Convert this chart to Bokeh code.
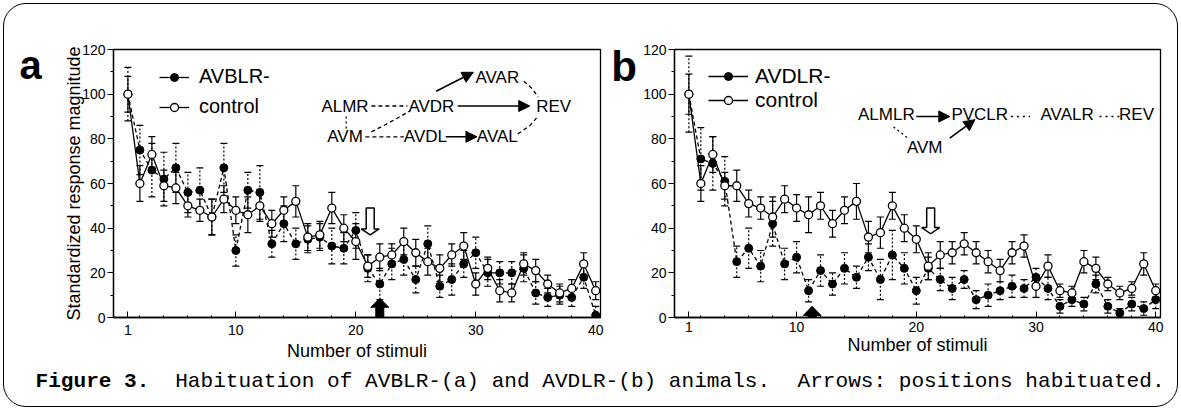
from bokeh.plotting import figure
from bokeh.models import (ColumnDataSource, Whisker, TeeHead, FixedTicker, Label, Arrow,
                          NormalHead, Legend, LegendItem, PolyAnnotation)
from bokeh.layouts import row, column
from bokeh.embed import file_html
from bokeh.resources import INLINE

FONT = "Liberation Sans"

stimuli = list(range(1, 41))
x_tick_labels = [1, 10, 20, 30, 40]
y_tick_labels = [0, 20, 40, 60, 80, 100, 120]

# panel a
a_avblr = [100, 75, 66, 62, 67, 56, 57, 45, 67, 30, 57, 56, 33, 42, 33, 35, 36, 32, 31, 39,
           22, 15, 24, 26, 17, 33, 14, 17, 24, 29, 20, 20, 20, 22, 11, 9, 10, 9, 18, 1]
a_avblr_err = [12, 11, 12, 12, 11, 9, 10, 8, 11, 7, 8, 12, 6, 8, 7, 6, 6, 8, 7, 8,
               6, 7, 7, 7, 6, 8, 5, 7, 6, 7, 6, 5, 5, 6, 5, 4, 4, 4, 5, 4]
a_control = [100, 60, 73, 59, 58, 50, 48, 45, 53, 48, 46, 50, 42, 48, 52, 36, 37, 49, 40, 34,
             23, 27, 28, 34, 29, 25, 22, 28, 32, 15, 22, 12, 11, 24, 21, 15, 11, 13, 24, 12]
a_control_err = [8, 8, 8, 7, 7, 5, 5, 8, 6, 6, 8, 7, 6, 6, 7, 6, 6, 7, 6, 8,
                 5, 6, 5, 6, 6, 6, 6, 5, 6, 5, 5, 5, 4, 5, 5, 4, 4, 4, 5, 4]

# panel b
b_avdlr = [100, 71, 69, 61, 25, 31, 23, 42, 24, 27, 12, 21, 15, 22, 18, 27, 17, 28, 22, 12,
           22, 17, 13, 17, 8, 10, 12, 14, 13, 18, 13, 5, 8, 6, 15, 5, 2, 6, 4, 8]
b_avdlr_err = [17, 14, 12, 11, 7, 9, 7, 10, 7, 7, 5, 7, 5, 7, 5, 6, 9, 11, 7, 6,
               5, 5, 5, 4, 4, 5, 4, 5, 4, 4, 5, 3, 3, 3, 4, 3, 2, 3, 3, 4]
b_control = [100, 60, 73, 59, 59, 51, 49, 45, 53, 49, 46, 50, 42, 48, 52, 36, 38, 50, 40, 35,
             23, 28, 29, 33, 29, 25, 21, 29, 32, 14, 23, 12, 11, 25, 22, 15, 11, 13, 24, 12]
b_control_err = [9, 8, 8, 6, 7, 6, 5, 9, 6, 6, 8, 6, 6, 6, 8, 7, 7, 6, 6, 6,
                 6, 6, 5, 5, 5, 5, 5, 5, 5, 5, 5, 3, 3, 5, 5, 3, 3, 3, 5, 3]

habituated_a = {"mutant": 22, "control": 21}
habituated_b = {"mutant": 11, "control": 21}

H = 378          # height of the panel row
TOP = 49         # common frame top border
BOTTOM = 61      # common frame bottom border


def src(vals, errs):
    return ColumnDataSource(dict(x=stimuli, y=vals,
                                 lo=[v - e for v, e in zip(vals, errs)],
                                 up=[v + e for v, e in zip(vals, errs)]))


def make_panel(width, mbl, mbr, mutant, mutant_err, ctrl, ctrl_err, ylabel,
               tick_standoff, label_standoff):
    p = figure(width=width, height=H, x_range=(-0.2, 40.4), y_range=(0, 120), title=None,
               output_backend="svg", toolbar_location=None,
               min_border_left=mbl, min_border_right=mbr, min_border_top=TOP, min_border_bottom=BOTTOM)
    p.border_fill_alpha = 0
    p.grid.visible = False
    p.outline_line_color = "black"
    p.outline_line_width = 1.3
    p.xaxis.ticker = FixedTicker(ticks=x_tick_labels, minor_ticks=list(range(2, 41, 2)))
    p.yaxis.ticker = FixedTicker(ticks=y_tick_labels, minor_ticks=list(range(10, 120, 20)))
    for ax in (p.xaxis[0], p.yaxis[0]):
        ax.axis_line_color = "black"
        ax.axis_line_width = 1.3
        ax.major_tick_line_color = "black"
        ax.minor_tick_line_color = "black"
        ax.major_label_text_font = FONT
        ax.major_label_text_font_size = "14px"
        ax.major_label_text_color = "black"
        ax.axis_label_text_font = FONT
        ax.axis_label_text_font_style = "normal"
        ax.axis_label_text_color = "black"
    p.xaxis.major_tick_in = 6
    p.xaxis.major_tick_out = 0
    p.xaxis.minor_tick_in = 2
    p.xaxis.minor_tick_out = 0
    p.xaxis.major_label_standoff = tick_standoff
    p.xaxis.axis_label = "Number of stimuli"
    p.xaxis.axis_label_text_font_size = "18px"
    p.xaxis.axis_label_standoff = label_standoff
    p.yaxis.major_tick_in = 0
    p.yaxis.major_tick_out = 6
    p.yaxis.minor_tick_in = 0
    p.yaxis.minor_tick_out = 3
    p.yaxis.major_label_standoff = 2
    if ylabel:
        p.yaxis.axis_label = ylabel
        p.yaxis.axis_label_text_font_size = "18px"
        p.yaxis.axis_label_standoff = -5

    ms = src(mutant, mutant_err)
    cs = src(ctrl, ctrl_err)
    for s, d in ((ms, "2 2"), (cs, "solid")):
        w = Whisker(source=s, base="x", upper="up", lower="lo", line_color="black",
                    line_width=1.2, line_dash=d,
                    upper_head=TeeHead(size=7, line_width=1.2, line_color="black"),
                    lower_head=TeeHead(size=7, line_width=1.2, line_color="black"), level="underlay")
        p.add_layout(w)
    p.line("x", "y", source=ms, line_color="black", line_width=1.3, line_dash="4 3")
    p.line("x", "y", source=cs, line_color="black", line_width=1.3)
    sm = p.scatter("x", "y", source=ms, size=8, fill_color="black", line_color="black")
    sc = p.scatter("x", "y", source=cs, size=8, fill_color="white", line_color="black", line_width=1.3)
    # solid line samples for the legend (kept outside the visible range)
    lm = p.line([-9, -8], [-50, -50], line_color="black", line_width=1.3)
    lc = p.line([-9, -8], [-50, -50], line_color="black", line_width=1.3)
    return p, (lm, sm), (lc, sc)


def add_legend(p, labels, items, loc, size, spacing, gw, standoff):
    leg = Legend(items=[LegendItem(label=labels[0], renderers=list(items[0])),
                        LegendItem(label=labels[1], renderers=list(items[1]))],
                 location=loc, label_text_font=FONT, label_text_font_size=size,
                 label_text_color="black", glyph_width=gw, glyph_height=20, label_height=20,
                 spacing=spacing, padding=0, margin=0, label_standoff=standoff,
                 background_fill_alpha=0, border_line_alpha=0)
    p.add_layout(leg)


def txt(p, x, y, s, size="17px"):
    p.add_layout(Label(x=x, y=y, text=s, text_font=FONT, text_font_size=size,
                       text_align="center", text_baseline="middle", text_color="black"))


def arrow(p, x0, y0, x1, y1, size=11):
    p.add_layout(Arrow(end=NormalHead(size=size, fill_color="black", line_color="black", line_width=1),
                       x_start=x0, y_start=y0, x_end=x1, y_end=y1, line_width=1.6, line_color="black"))


def dash(p, xs, ys, d="4 3"):
    p.line(xs, ys, line_color="black", line_width=1.3, line_dash=d)


def hollow_down(p, xc, top, tip, sx, ux):
    sw, hw, hl = 4 * sx, 9 * sx, 6 * ux
    xs = [xc - sw, xc + sw, xc + sw, xc + hw, xc, xc - hw, xc - sw]
    ys = [top, top, tip + hl, tip + hl, tip, tip + hl, tip + hl]
    p.add_layout(PolyAnnotation(xs=xs, ys=ys, fill_color="white", fill_alpha=1,
                                line_color="black", line_alpha=1, line_width=1.5))


def solid_up(p, xc, bottom, tip, sx, ux):
    sw, hw, hl = 4 * sx, 9 * sx, 9 * ux
    xs = [xc - sw, xc + sw, xc + sw, xc + hw, xc, xc - hw, xc - sw]
    ys = [bottom, bottom, tip - hl, tip - hl, tip, tip - hl, tip - hl]
    p.add_layout(PolyAnnotation(xs=xs, ys=ys, fill_color="black", fill_alpha=1,
                                line_color="black", line_alpha=1, line_width=1))


def letter_fig(width, x, y, s, size):
    # same vertical borders as the panels, so the 0..120 scale matches theirs
    f = figure(width=width, height=H, x_range=(0, width), y_range=(0, 120), title=None,
               output_backend="svg", toolbar_location=None,
               min_border_left=0, min_border_right=0, min_border_top=TOP, min_border_bottom=BOTTOM)
    f.border_fill_alpha = 0
    f.background_fill_alpha = 0
    f.axis.visible = False
    f.grid.visible = False
    f.outline_line_color = None
    f.text(x=[x], y=[y], text=[s], text_font_size=size, text_font_style="bold",
           text_align="center", text_baseline="alphabetic", text_color="black")
    return f


# ---------- panel a ----------
la = letter_fig(58, 30, 113.0, "a", "40px")
pa, ia_m, ia_c = make_panel(552, 55, 10, a_avblr, a_avblr_err, a_control, a_control_err,
                            "Standardized response magnitude", 7, 3)
add_legend(pa, ["AVBLR-", "control"], [ia_m, ia_c], (46, 199), "20px", 7, 30, 10)
txt(pa, 19.1, 94.7, "ALMR")
txt(pa, 26.3, 94.7, "AVDR")
txt(pa, 36.5, 94.7, "REV")
txt(pa, 31.8, 107.6, "AVAR")
txt(pa, 19.1, 80.9, "AVM")
txt(pa, 25.8, 80.9, "AVDL")
txt(pa, 31.8, 80.9, "AVAL")
dash(pa, [21.3, 24.3], [94.7, 94.7])
dash(pa, [20.8, 24.0], [80.9, 80.9])
dash(pa, [21.3, 22.7, 24.5], [83.1, 87.0, 92.4])
dash(pa, [19.2, 19.2], [90.0, 84.6], "2 3")
dash(pa, [34.0, 34.7, 35.2], [105.8, 102.5, 98.7])
dash(pa, [33.5, 34.5, 35.2], [82.2, 85.8, 90.2])
arrow(pa, 28.5, 94.7, 34.5, 94.7)
arrow(pa, 26.7, 101.3, 29.8, 109.8)
arrow(pa, 27.5, 80.9, 30.1, 80.9)
hollow_down(pa, habituated_a["control"] + 0.2, 49, 37, 1 / 12, 1 / 2.25)
solid_up(pa, habituated_a["mutant"], -6, 8.6, 1 / 12, 1 / 2.25)

# ---------- panel b ----------
lb = letter_fig(30, 13.5, 112.6, "b", "42px")
pb, ib_m, ib_c = make_panel(533, 34, 13, b_avdlr, b_avdlr_err, b_control, b_control_err, None,
                            4, 0)
add_legend(pb, ["AVDLR-", "control"], [ib_m, ib_c], (34, 205), "21px", 0, 40, 7)
txt(pb, 17.5, 90.8, "ALMLR")
txt(pb, 25.3, 90.8, "PVCLR")
txt(pb, 32.6, 90.8, "AVALR")
txt(pb, 38.4, 90.8, "REV")
txt(pb, 20.7, 76.2, "AVM")
arrow(pb, 20.0, 90.0, 22.8, 90.0)
arrow(pb, 22.8, 80.3, 24.9, 88.6)
dash(pb, [27.9, 29.5], [90.0, 90.0], "2 4")
dash(pb, [35.3, 37.0], [90.0, 90.0], "2 4")
dash(pb, [18.1, 19.3], [85.3, 80.3], "2 3")
hollow_down(pb, habituated_b["control"] + 0.2, 49, 37.5, 1 / 12.05, 1 / 2.185)
solid_up(pb, habituated_b["mutant"] + 0.3, -8, 5, 1 / 12.05, 1 / 2.185)

# ---------- caption ----------
CH = 28
CW = 1181
cap = figure(width=CW, height=CH, x_range=(0, CW), y_range=(0, CH), title=None,
             output_backend="svg", toolbar_location=None,
             min_border_left=0, min_border_right=0, min_border_top=0, min_border_bottom=0,
             margin=(-14, 0, 0, 0))
cap.axis.visible = False
cap.grid.visible = False
cap.outline_line_color = None
cap.background_fill_alpha = 0
cap.border_fill_alpha = 0
cw = 12.7
cap_parts = [(0, "Figure 3.", "bold"),
             (11, "Habituation of AVBLR-(a) and AVDLR-(b) animals.", "normal"),
             (60, "Arrows: positions habituated.", "normal")]
for idx, s, style in cap_parts:
    cap.add_layout(Label(x=35 + idx * cw, y=12, text=s, text_font="Liberation Mono",
                         text_font_size="21.1px", text_font_style=style, text_baseline="middle",
                         text_color="black"))

layout = column(row(la, pa, lb, pb), cap, width=1181, height=410,
                styles={"outline": "1.5px solid black", "outline-offset": "-4px",
                        "border-radius": "26px"})
open("out.html", "w").write(file_html(layout, INLINE))
